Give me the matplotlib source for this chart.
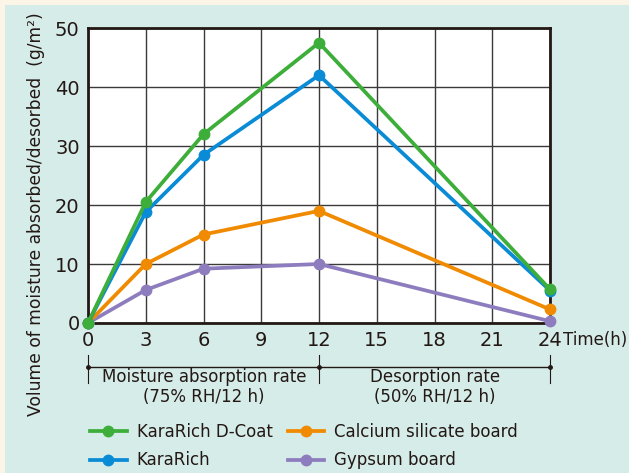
import matplotlib.pyplot as plt
from matplotlib.patches import Rectangle
from matplotlib.lines import Line2D

plt.rcParams['font.family'] = ['DejaVu Sans']

hours = [0, 3, 6, 12, 24]
dcoat = [0, 20.5, 32, 47.5, 5.7]
kararich = [0, 18.8, 28.5, 42, 5.5]
calcium = [0, 10, 15, 19, 2.3]
gypsum = [0, 5.6, 9.2, 10, 0.3]

names = ['KaraRich D-Coat', 'KaraRich', 'Calcium silicate board', 'Gypsum board']
colors = ['#3DAE3A', '#0A8BD6', '#F08A00', '#8E7DBE']

xticks = [0, 3, 6, 9, 12, 15, 18, 21, 24]
yticks = [0, 10, 20, 30, 40, 50]

fig = plt.figure(figsize=(6.29, 4.73), dpi=100, facecolor='#FDF4E8')
fig.patches.append(Rectangle((5 / 629, 0), 1, 1 - 5 / 473, transform=fig.transFigure,
                             facecolor='#D5ECE8', edgecolor='none', zorder=-5))

ax = fig.add_axes([88 / 629, 1 - 323 / 473, 462 / 629, 295 / 473])
ax.set_facecolor('white')
ax.set_xlim(0, 24)
ax.set_ylim(0, 50)
ax.set_xticks(xticks)
ax.set_yticks(yticks)
ax.tick_params(labelsize=14, length=0, colors='#231815')
ax.tick_params(axis='x', pad=6)
ax.tick_params(axis='y', pad=6)
ax.grid(True, color='#3a3a3a', linewidth=1)
ax.set_axisbelow(True)
for s in ax.spines.values():
    s.set_linewidth(2)
    s.set_color('#231815')

# plot order so green ends up on top
for ys, c in [(gypsum, colors[3]), (calcium, colors[2]), (kararich, colors[1]), (dcoat, colors[0])]:
    ax.plot(hours, ys, color=c, lw=2.7, marker='o', ms=7.5, clip_on=False, zorder=3)

ax.set_ylabel('Volume of moisture absorbed/desorbed  (g/m²)', fontsize=12.3, color='#231815')
ax.yaxis.set_label_coords(-43 / 462, 0.37)
fig.text(563 / 629, 1 - 340 / 473, 'Time(h)', fontsize=12, color='#231815', va='center')

# brackets under the x axis
by = 1 - 367 / 473
fig.add_artist(Line2D([88 / 629, 550 / 629], [by, by], color='#231815', lw=1))
for px in [88, 319, 550]:
    fig.add_artist(Line2D([px / 629, px / 629], [1 - 355 / 473, 1 - 383 / 473], color='#231815', lw=0.8))
    fig.add_artist(Line2D([px / 629], [by], color='#231815', marker='o', ms=2.5))
fig.text(204 / 629, 1 - 387 / 473, 'Moisture absorption rate\n(75% RH/12 h)', fontsize=12,
         ha='center', va='center', color='#231815', linespacing=1.2)
fig.text(435 / 629, 1 - 387 / 473, 'Desorption rate\n(50% RH/12 h)', fontsize=12,
         ha='center', va='center', color='#231815', linespacing=1.2)

# legend
handles = [Line2D([], [], color=c, lw=2.7, marker='o', ms=7.5) for c in colors]
fig.legend(handles, names, ncol=2, loc='center left', bbox_to_anchor=(75 / 629, 1 - 446 / 473),
           frameon=False, fontsize=12, handlelength=2.2, columnspacing=0.9, handletextpad=0.6,
           labelspacing=0.65, labelcolor='#231815')

fig.savefig('out.png', dpi=100, facecolor=fig.get_facecolor())
